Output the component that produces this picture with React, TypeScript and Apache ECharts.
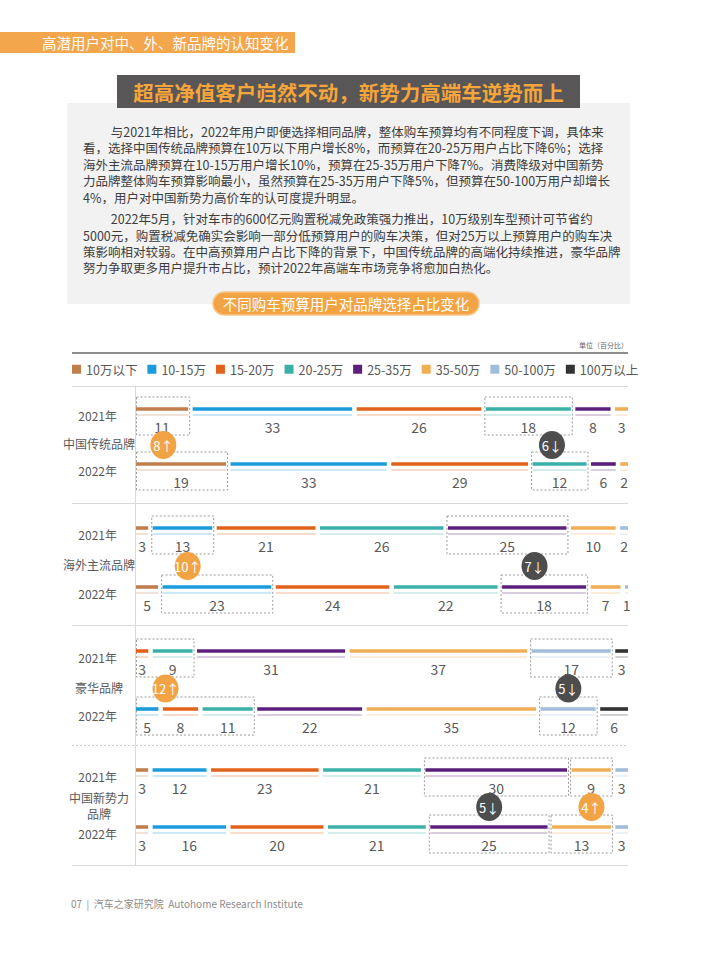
import React, { useEffect, useRef } from 'react';
import * as echarts from 'echarts';

// ---------- data ----------
const budgetCategories = ['10万以下', '10-15万', '15-20万', '20-25万', '25-35万', '35-50万', '50-100万', '100万以上'];
const brands = ['中国传统品牌', '海外主流品牌', '豪华品牌', '中国新势力\n品牌'];
const years = ['2021年', '2022年'];

const traditional2021 = [11, 33, 26, 18, 8, 3, 0, 0];
const traditional2022 = [19, 33, 29, 12, 6, 2, 0, 0];
const foreign2021 = [3, 13, 21, 26, 25, 10, 2, 0];
const foreign2022 = [5, 23, 24, 22, 18, 7, 1, 0];
const luxury2021 = [0, 0, 3, 9, 31, 37, 17, 3];
const luxury2022 = [0, 5, 8, 11, 22, 35, 12, 6];
const newForce2021 = [3, 12, 23, 21, 30, 9, 3, 0];
const newForce2022 = [3, 16, 20, 21, 25, 13, 3, 0];

// highlighted changes (dashed boxes + bubbles)
const highlightBrand = [0, 0, 1, 1, 2, 2, 3, 3];
const highlightCats2021 = [[0], [3], [1], [4], [2, 3], [6], [4], [5]];
const highlightCats2022 = [[0], [3], [1], [4], [1, 2, 3], [6], [4], [5]];
const highlightChange = [8, -6, 10, -7, 12, -5, -5, 4];

// texts
const bannerText = '高潜用户对中、外、新品牌的认知变化';
const titleText = '超高净值客户岿然不动，新势力高端车逆势而上';
const paragraph1 = [
  '与2021年相比，2022年用户即便选择相同品牌，整体购车预算均有不同程度下调，具体来',
  '看，选择中国传统品牌预算在10万以下用户增长8%，而预算在20-25万用户占比下降6%；选择',
  '海外主流品牌预算在10-15万用户增长10%，预算在25-35万用户下降7%。消费降级对中国新势',
  '力品牌整体购车预算影响最小，虽然预算在25-35万用户下降5%，但预算在50-100万用户却增长',
  '4%，用户对中国新势力高价车的认可度提升明显。',
];
const paragraph2 = [
  '2022年5月，针对车市的600亿元购置税减免政策强力推出，10万级别车型预计可节省约',
  '5000元，购置税减免确实会影响一部分低预算用户的购车决策，但对25万以上预算用户的购车决',
  '策影响相对较弱。在中高预算用户占比下降的背景下，中国传统品牌的高端化持续推进，豪华品牌',
  '努力争取更多用户提升市占比，预计2022年高端车市场竞争将愈加白热化。',
];
const chartTitle = '不同购车预算用户对品牌选择占比变化';
const unitText = '单位（百分比）';
const footerText = '07  |  汽车之家研究院  Autohome Research Institute';

// ---------- styles ----------
const catColors = ['#C17F4E', '#1B9BDB', '#E2621B', '#3BB0A8', '#5C1F7B', '#F0AE57', '#A2BCDC', '#333333'];
const FONT = '"Noto Sans CJK SC", "Noto Sans", sans-serif';
const ORANGE = '#F2A444';
const DARK = '#4D4D4D';

const rowsByBrand = [
  [traditional2021, traditional2022],
  [foreign2021, foreign2022],
  [luxury2021, luxury2022],
  [newForce2021, newForce2022],
];

// grid layout (pixels)
const GRID_LEFT = 136;
const GRID_RIGHT = 82;
const gridTops = [381.5, 498.5, 622, 741.5];
const gridHeights = [110, 118, 116, 114];

function tint(hex: string, k: number) {
  const n = parseInt(hex.slice(1), 16);
  const r = (n >> 16) & 255, g = (n >> 8) & 255, b = n & 255;
  const m = (c: number) => Math.round(c + (255 - c) * k);
  return `rgb(${m(r)},${m(g)},${m(b)})`;
}

function layoutRow(vals: number[]) {
  const sum = vals.reduce((a, b) => a + b, 0);
  let cum = 0;
  return vals.map((v) => {
    const s = (cum / sum) * 100;
    cum += v;
    return v > 0 ? [s, (cum / sum) * 100] : null;
  });
}

function spanOf(layout: (number[] | null)[], cats: number[]) {
  return [layout[cats[0]]![0], layout[cats[cats.length - 1]]![1]];
}

export default function App() {
  const ref = useRef<HTMLDivElement>(null);

  useEffect(() => {
    if (!ref.current) return;
    const chart = echarts.init(ref.current, undefined, { renderer: 'svg' });

    const grids: any[] = [];
    const xAxes: any[] = [];
    const yAxes: any[] = [];
    const series: any[] = [];
    const brandLabels: any[] = [];

    brands.forEach((brand, g) => {
      grids.push({ left: GRID_LEFT, right: GRID_RIGHT, top: gridTops[g], height: gridHeights[g], containLabel: false });
      xAxes.push({ type: 'value', gridIndex: g, min: 0, max: 100, show: false });
      yAxes.push({
        type: 'category',
        gridIndex: g,
        data: years,
        inverse: true,
        axisLine: { show: false },
        axisTick: { show: false },
        splitLine: { show: false },
        axisLabel: {
          color: '#595959',
          fontSize: 12,
          margin: 19,
          verticalAlign: 'top',
          lineHeight: 12,
          fontFamily: FONT,
        },
      });
      brandLabels.push({
        type: 'text',
        x: 99,
        y: gridTops[g] + gridHeights[g] / 2 + 7,
        style: {
          text: brand,
          fill: '#595959',
          fontSize: 12,
          lineHeight: 16,
          align: 'center',
          verticalAlign: 'middle',
          fontFamily: FONT,
        },
      });

      const layouts = rowsByBrand[g].map(layoutRow);

      // bars per budget category
      budgetCategories.forEach((cat, c) => {
        const data: number[][] = [];
        layouts.forEach((lay, r) => {
          const seg = lay[c];
          if (seg) data.push([seg[0], seg[1], r, rowsByBrand[g][r][c]]);
        });
        const color = catColors[c];
        const light = tint(color, 0.55);
        series.push({
          type: 'custom',
          name: cat,
          xAxisIndex: g,
          yAxisIndex: g,
          itemStyle: { color },
          encode: { x: [0, 1], y: 2 },
          z: 2,
          data,
          renderItem: (params: any, api: any) => {
            const s = api.value(0), e = api.value(1), row = api.value(2), v = api.value(3);
            const a = api.coord([s, row]);
            const b = api.coord([e, row]);
            const x0 = a[0] + (s > 0.001 ? 2 : 0);
            const x1 = b[0] - (e < 99.999 ? 2.5 : 0);
            const y = a[1];
            return {
              type: 'group',
              children: [
                { type: 'rect', shape: { x: x0, y: y - 1.8, width: x1 - x0, height: 3.6 }, style: { fill: color } },
                { type: 'rect', shape: { x: x0, y: y + 5.5, width: x1 - x0, height: 1 }, style: { fill: light } },
                {
                  type: 'text',
                  style: {
                    text: String(v),
                    x: (x0 + x1) / 2,
                    y: y + 17.5,
                    align: 'center',
                    verticalAlign: 'middle',
                    fontSize: 14,
                    fill: '#595959',
                    fontFamily: FONT,
                  },
                },
              ],
            };
          },
        });
      });

      // highlight boxes and bubbles
      const boxData: number[][] = [];
      const bubbleData: number[][] = [];
      highlightBrand.forEach((bi, h) => {
        if (bi !== g) return;
        const s1 = spanOf(layouts[0], highlightCats2021[h]);
        const s2 = spanOf(layouts[1], highlightCats2022[h]);
        boxData.push([s1[0], s1[1], 0]);
        boxData.push([s2[0], s2[1], 1]);
        let lo = Math.max(s1[0], s2[0]);
        let hi = Math.min(s1[1], s2[1]);
        if (hi < lo) {
          lo = Math.min(s1[0], s2[0]);
          hi = Math.max(s1[1], s2[1]);
        }
        bubbleData.push([(lo + hi) / 2, highlightChange[h]]);
      });

      series.push({
        type: 'custom',
        name: 'box' + g,
        xAxisIndex: g,
        yAxisIndex: g,
        z: 1,
        silent: true,
        encode: { x: [0, 1], y: 2 },
        data: boxData,
        renderItem: (params: any, api: any) => {
          const s = api.value(0), e = api.value(1), row = api.value(2);
          const a = api.coord([s, row]);
          const b = api.coord([e, row]);
          const x0 = a[0] + (s > 0.001 ? 1 : 0.5);
          const x1 = b[0] - (e < 99.999 ? 1 : 0.5);
          const y = a[1];
          return {
            type: 'rect',
            shape: { x: x0, y: y - 12, width: x1 - x0, height: 38 },
            style: { fill: 'none', stroke: '#8f8f8f', lineWidth: 0.9, lineDash: [2, 2] },
          };
        },
      });

      series.push({
        type: 'custom',
        name: 'bubble' + g,
        xAxisIndex: g,
        yAxisIndex: g,
        z: 3,
        silent: true,
        encode: { x: 0 },
        data: bubbleData,
        renderItem: (params: any, api: any) => {
          const x = api.value(0), ch = api.value(1);
          const a = api.coord([x, 0]);
          const b = api.coord([x, 1]);
          const cx = a[0];
          const cy = (a[1] + b[1]) / 2 + 8.5;
          const up = ch > 0;
          return {
            type: 'group',
            children: [
              { type: 'ellipse', shape: { cx, cy, rx: 13, ry: 14 }, style: { fill: up ? ORANGE : DARK } },
              {
                type: 'text',
                style: {
                  text: `${Math.abs(ch)}${up ? '↑' : '↓'}`,
                  x: cx,
                  y: cy,
                  align: 'center',
                  verticalAlign: 'middle',
                  fontSize: 13,
                  fill: '#ffffff',
                  fontFamily: FONT,
                },
              },
            ],
          };
        },
      });
    });

    // static decorations
    const INDENT = '\u3000\u3000 ';
    const graphic: any[] = [
      { type: 'rect', shape: { x: 0, y: 32, width: 295, height: 21 }, style: { fill: '#F3A64C' } },
      {
        type: 'text',
        x: 42,
        y: 42.5,
        style: { text: bannerText, fill: '#ffffff', fontSize: 14.5, verticalAlign: 'middle', fontFamily: FONT },
      },
      { type: 'rect', shape: { x: 67, y: 103, width: 563, height: 201 }, style: { fill: '#F2F2F2' } },
      { type: 'rect', shape: { x: 117, y: 75, width: 463, height: 33 }, style: { fill: '#585656' } },
      {
        type: 'text',
        x: 348.5,
        y: 92,
        style: {
          text: titleText,
          fill: '#F6A53B',
          fontSize: 20.5,
          fontWeight: 'bold',
          align: 'center',
          verticalAlign: 'middle',
          fontFamily: FONT,
        },
      },
      {
        type: 'text',
        x: 83,
        y: 123.3,
        style: {
          text: INDENT + paragraph1.join('\n'),
          fill: '#3d3d3d',
          fontSize: 12.5,
          lineHeight: 16.4,
          verticalAlign: 'top',
          fontFamily: FONT,
        },
      },
      {
        type: 'text',
        x: 83,
        y: 210.6,
        style: {
          text: INDENT + paragraph2.join('\n'),
          fill: '#3d3d3d',
          fontSize: 12.5,
          lineHeight: 16.4,
          verticalAlign: 'top',
          fontFamily: FONT,
        },
      },
      {
        type: 'rect',
        shape: { x: 213, y: 292, width: 266, height: 23, r: 11.5 },
        style: { fill: ORANGE, stroke: '#F7C58A', lineWidth: 1.5 },
      },
      {
        type: 'text',
        x: 346,
        y: 303.5,
        style: { text: chartTitle, fill: '#ffffff', fontSize: 14.5, align: 'center', verticalAlign: 'middle', fontFamily: FONT },
      },
      {
        type: 'text',
        x: 628,
        y: 345,
        style: { text: unitText, fill: '#666666', fontSize: 7, align: 'right', verticalAlign: 'middle', fontFamily: FONT },
      },
      { type: 'line', shape: { x1: 72, y1: 353, x2: 628, y2: 353 }, style: { stroke: '#666666', lineWidth: 1.5 } },
      { type: 'line', shape: { x1: 72, y1: 386.5, x2: 628, y2: 386.5 }, style: { stroke: '#d9d9d9', lineWidth: 1 } },
      { type: 'line', shape: { x1: 72, y1: 503.5, x2: 628, y2: 503.5 }, style: { stroke: '#d9d9d9', lineWidth: 1 } },
      { type: 'line', shape: { x1: 72, y1: 625.5, x2: 628, y2: 625.5 }, style: { stroke: '#d9d9d9', lineWidth: 1 } },
      {
        type: 'line',
        shape: { x1: 72, y1: 745.5, x2: 628, y2: 745.5 },
        style: { stroke: '#c8c8c8', lineWidth: 1, lineDash: [2, 2] },
      },
      { type: 'line', shape: { x1: 72, y1: 865.5, x2: 628, y2: 865.5 }, style: { stroke: '#d9d9d9', lineWidth: 1 } },
      { type: 'line', shape: { x1: 135.5, y1: 386.5, x2: 135.5, y2: 865.5 }, style: { stroke: '#d9d9d9', lineWidth: 1 } },
      {
        type: 'text',
        x: 71,
        y: 903,
        style: { text: footerText, fill: '#8c8c8c', fontSize: 10, verticalAlign: 'middle', fontFamily: FONT },
      },
      ...brandLabels,
    ];

    chart.setOption({
      animation: false,
      backgroundColor: '#ffffff',
      textStyle: { fontFamily: FONT },
      legend: {
        data: budgetCategories,
        left: 72,
        top: 363,
        itemWidth: 9,
        itemHeight: 9,
        itemGap: 10,
        icon: 'rect',
        selectedMode: false,
        padding: 0,
        textStyle: { fontSize: 12.5, color: '#595959', width: 47, fontFamily: FONT },
      },
      grid: grids,
      xAxis: xAxes,
      yAxis: yAxes,
      series,
      graphic,
    });

    return () => chart.dispose();
  }, []);

  return (
    <div
      ref={ref}
      style={{ position: 'absolute', left: 0, top: 0, width: 710, height: 963, background: '#ffffff' }}
    />
  );
}
